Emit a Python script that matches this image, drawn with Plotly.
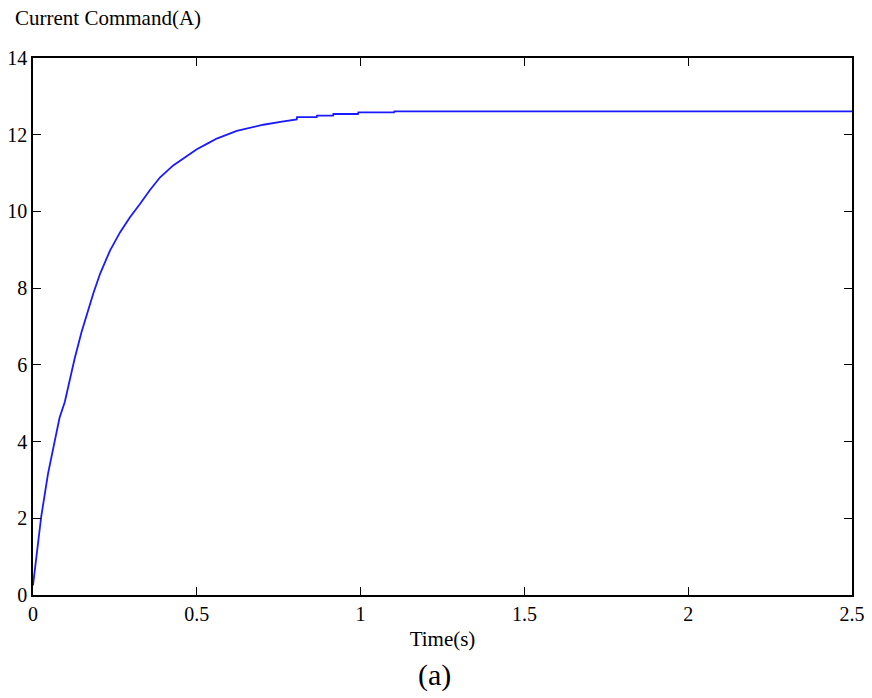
import plotly.graph_objects as go

# Current command response sampled over time
time_s = [0.0, 0.011, 0.025, 0.046, 0.066, 0.081, 0.097, 0.112, 0.127, 0.148,
          0.164, 0.184, 0.205, 0.235, 0.266, 0.296, 0.327, 0.357, 0.388, 0.428,
          0.479, 0.5, 0.535, 0.561, 0.622, 0.703, 0.76, 0.805, 0.806, 0.866,
          0.867, 0.916, 0.917, 0.992, 0.993, 1.102, 1.103, 2.5]
current_a = [0.25, 1.09, 2.04, 3.17, 4.04, 4.62, 5.03, 5.6, 6.16, 6.85,
             7.32, 7.86, 8.38, 8.98, 9.46, 9.85, 10.2, 10.56, 10.89, 11.2,
             11.5, 11.62, 11.78, 11.9, 12.1, 12.26, 12.34, 12.40, 12.46, 12.46,
             12.50, 12.50, 12.54, 12.54, 12.58, 12.58, 12.61, 12.61]

x_ticks = [0, 0.5, 1, 1.5, 2, 2.5]
x_tick_text = ["0", "0.5", "1", "1.5", "2", "2.5"]
y_ticks = [0, 2, 4, 6, 8, 10, 12, 14]

FONT = "Liberation Serif, Times New Roman, serif"

fig = go.Figure(go.Scatter(
    x=time_s, y=current_a, mode="lines",
    line=dict(color="#1a1aff", width=1.8),
    showlegend=False,
))

axis_common = dict(
    showline=True, linecolor="black", linewidth=1.5, mirror="ticks",
    ticks="inside", ticklen=8, tickwidth=1.3, tickcolor="black",
    showgrid=False, zeroline=False, automargin=False,
    tickfont=dict(family=FONT, size=20, color="black"),
)

fig.update_layout(
    width=872, height=698,
    margin=dict(l=33, r=20, t=58, b=103),
    paper_bgcolor="white", plot_bgcolor="white",
    font=dict(family=FONT, color="black"),
    xaxis=dict(range=[0, 2.5], tickvals=x_ticks, ticktext=x_tick_text,
               title=dict(text="Time(s)", font=dict(family=FONT, size=21), standoff=8),
               **axis_common),
    yaxis=dict(range=[0, 14], tickvals=y_ticks, **axis_common),
    annotations=[
        dict(text="Current Command(A)", xref="paper", yref="paper",
             x=-0.025, y=1.0, xanchor="left", yanchor="bottom", yshift=26,
             showarrow=False, font=dict(family=FONT, size=21, color="black")),
        dict(text="(a)", xref="paper", yref="paper", x=0.49, y=0,
             xanchor="center", yanchor="middle", yshift=-80,
             showarrow=False, font=dict(family=FONT, size=30, color="black")),
    ],
)

fig.write_html("out.html")
